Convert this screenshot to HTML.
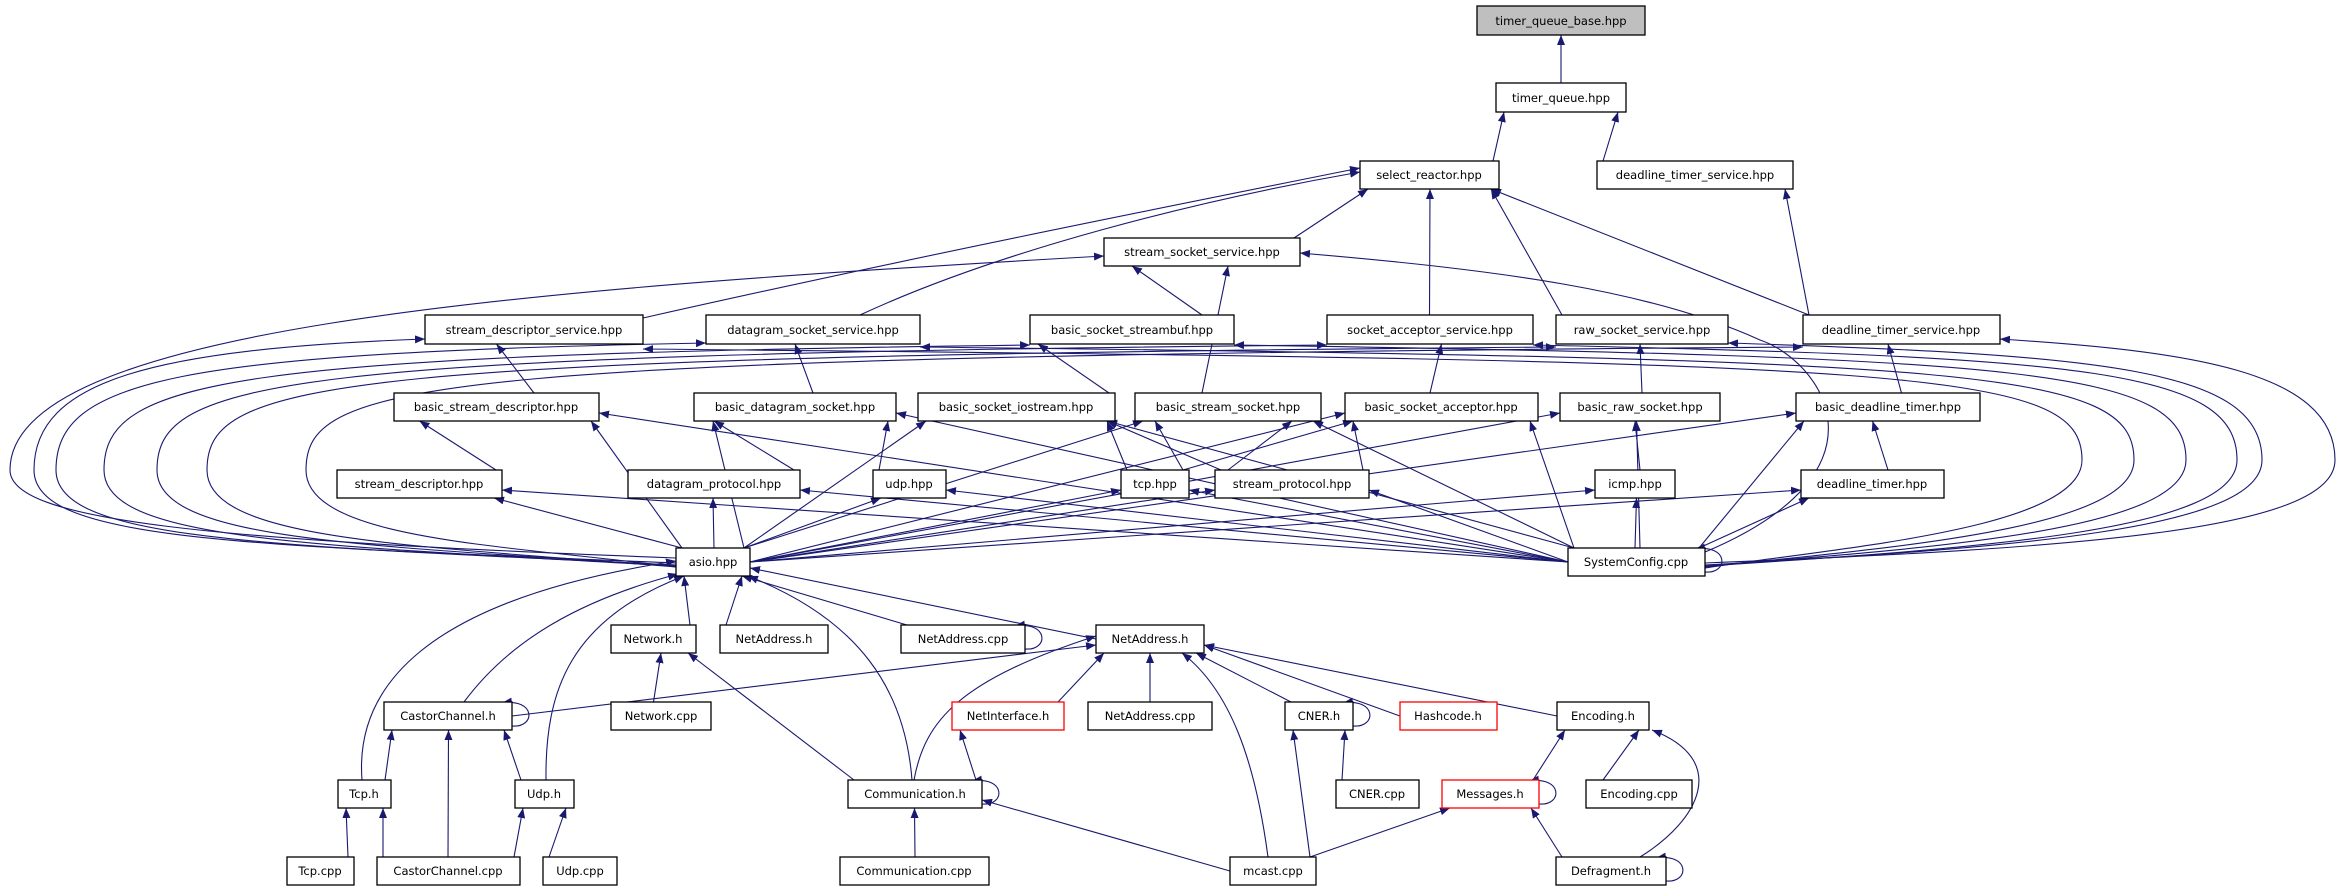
<!DOCTYPE html>
<html><head><meta charset="utf-8"><style>
html,body{margin:0;padding:0;background:#fff;}
svg{display:block;}
text{font-family:"DejaVu Sans","Liberation Sans",sans-serif;font-size:11.5px;fill:#000;}
.n{fill:#fff;stroke:#000;stroke-width:1.3;}
.g{fill:#bfbfbf;stroke:#000;stroke-width:1.3;}
.r{fill:#fff;stroke:#ff0000;stroke-width:1.3;}
</style></head><body>
<svg id="s" width="2341" height="891" viewBox="0 0 2341 891" xmlns="http://www.w3.org/2000/svg">
<defs><marker id="a" markerWidth="10" markerHeight="8" refX="10" refY="4" orient="auto" markerUnits="userSpaceOnUse"><path d="M0,0 L10,4 L0,8 z" fill="#191970"/></marker></defs>
<g id="edges" fill="none" stroke="#191970" stroke-width="1.1"></g>
<g id="nodes">
<rect class="g" x="1477" y="6" width="168" height="29"/><text x="1561" y="25" text-anchor="middle">timer_queue_base.hpp</text>
<rect class="n" x="1496" y="83" width="130" height="29"/><text x="1561" y="102" text-anchor="middle">timer_queue.hpp</text>
<rect class="n" x="1360" y="161" width="139" height="28"/><text x="1429" y="179" text-anchor="middle">select_reactor.hpp</text>
<rect class="n" x="1597" y="161" width="196" height="28"/><text x="1695" y="179" text-anchor="middle">deadline_timer_service.hpp</text>
<rect class="n" x="1104" y="238" width="196" height="28"/><text x="1202" y="256" text-anchor="middle">stream_socket_service.hpp</text>
<rect class="n" x="425" y="315" width="218" height="29"/><text x="534" y="334" text-anchor="middle">stream_descriptor_service.hpp</text>
<rect class="n" x="706" y="315" width="214" height="29"/><text x="813" y="334" text-anchor="middle">datagram_socket_service.hpp</text>
<rect class="n" x="1030" y="315" width="204" height="29"/><text x="1132" y="334" text-anchor="middle">basic_socket_streambuf.hpp</text>
<rect class="n" x="1327" y="315" width="206" height="29"/><text x="1430" y="334" text-anchor="middle">socket_acceptor_service.hpp</text>
<rect class="n" x="1556" y="315" width="172" height="29"/><text x="1642" y="334" text-anchor="middle">raw_socket_service.hpp</text>
<rect class="n" x="1803" y="315" width="197" height="29"/><text x="1901" y="334" text-anchor="middle">deadline_timer_service.hpp</text>
<rect class="n" x="394" y="393" width="205" height="28"/><text x="496" y="411" text-anchor="middle">basic_stream_descriptor.hpp</text>
<rect class="n" x="694" y="393" width="202" height="28"/><text x="795" y="411" text-anchor="middle">basic_datagram_socket.hpp</text>
<rect class="n" x="918" y="393" width="197" height="28"/><text x="1016" y="411" text-anchor="middle">basic_socket_iostream.hpp</text>
<rect class="n" x="1135" y="393" width="186" height="28"/><text x="1228" y="411" text-anchor="middle">basic_stream_socket.hpp</text>
<rect class="n" x="1345" y="393" width="193" height="28"/><text x="1441" y="411" text-anchor="middle">basic_socket_acceptor.hpp</text>
<rect class="n" x="1560" y="393" width="160" height="28"/><text x="1640" y="411" text-anchor="middle">basic_raw_socket.hpp</text>
<rect class="n" x="1796" y="393" width="184" height="28"/><text x="1888" y="411" text-anchor="middle">basic_deadline_timer.hpp</text>
<rect class="n" x="337" y="470" width="165" height="28"/><text x="419" y="488" text-anchor="middle">stream_descriptor.hpp</text>
<rect class="n" x="628" y="470" width="172" height="28"/><text x="714" y="488" text-anchor="middle">datagram_protocol.hpp</text>
<rect class="n" x="873" y="470" width="73" height="28"/><text x="909" y="488" text-anchor="middle">udp.hpp</text>
<rect class="n" x="1121" y="470" width="68" height="28"/><text x="1155" y="488" text-anchor="middle">tcp.hpp</text>
<rect class="n" x="1215" y="470" width="154" height="28"/><text x="1292" y="488" text-anchor="middle">stream_protocol.hpp</text>
<rect class="n" x="1595" y="470" width="80" height="28"/><text x="1635" y="488" text-anchor="middle">icmp.hpp</text>
<rect class="n" x="1801" y="470" width="143" height="28"/><text x="1872" y="488" text-anchor="middle">deadline_timer.hpp</text>
<rect class="n" x="676" y="548" width="74" height="28"/><text x="713" y="566" text-anchor="middle">asio.hpp</text>
<rect class="n" x="1568" y="548" width="137" height="28"/><text x="1636" y="566" text-anchor="middle">SystemConfig.cpp</text>
<rect class="n" x="611" y="625" width="85" height="28"/><text x="653" y="643" text-anchor="middle">Network.h</text>
<rect class="n" x="720" y="625" width="108" height="28"/><text x="774" y="643" text-anchor="middle">NetAddress.h</text>
<rect class="n" x="901" y="625" width="124" height="28"/><text x="963" y="643" text-anchor="middle">NetAddress.cpp</text>
<rect class="n" x="1096" y="625" width="108" height="28"/><text x="1150" y="643" text-anchor="middle">NetAddress.h</text>
<rect class="n" x="384" y="702" width="128" height="28"/><text x="448" y="720" text-anchor="middle">CastorChannel.h</text>
<rect class="n" x="611" y="702" width="100" height="28"/><text x="661" y="720" text-anchor="middle">Network.cpp</text>
<rect class="r" x="952" y="702" width="112" height="28"/><text x="1008" y="720" text-anchor="middle">NetInterface.h</text>
<rect class="n" x="1088" y="702" width="124" height="28"/><text x="1150" y="720" text-anchor="middle">NetAddress.cpp</text>
<rect class="n" x="1285" y="702" width="68" height="28"/><text x="1319" y="720" text-anchor="middle">CNER.h</text>
<rect class="r" x="1400" y="702" width="97" height="28"/><text x="1448" y="720" text-anchor="middle">Hashcode.h</text>
<rect class="n" x="1557" y="702" width="92" height="28"/><text x="1603" y="720" text-anchor="middle">Encoding.h</text>
<rect class="n" x="338" y="780" width="53" height="28"/><text x="364" y="798" text-anchor="middle">Tcp.h</text>
<rect class="n" x="515" y="780" width="59" height="28"/><text x="544" y="798" text-anchor="middle">Udp.h</text>
<rect class="n" x="848" y="780" width="134" height="28"/><text x="915" y="798" text-anchor="middle">Communication.h</text>
<rect class="n" x="1336" y="780" width="83" height="28"/><text x="1377" y="798" text-anchor="middle">CNER.cpp</text>
<rect class="r" x="1442" y="780" width="97" height="28"/><text x="1490" y="798" text-anchor="middle">Messages.h</text>
<rect class="n" x="1586" y="780" width="106" height="28"/><text x="1639" y="798" text-anchor="middle">Encoding.cpp</text>
<rect class="n" x="287" y="857" width="67" height="28"/><text x="320" y="875" text-anchor="middle">Tcp.cpp</text>
<rect class="n" x="377" y="857" width="143" height="28"/><text x="448" y="875" text-anchor="middle">CastorChannel.cpp</text>
<rect class="n" x="543" y="857" width="74" height="28"/><text x="580" y="875" text-anchor="middle">Udp.cpp</text>
<rect class="n" x="840" y="857" width="149" height="28"/><text x="914" y="875" text-anchor="middle">Communication.cpp</text>
<rect class="n" x="1230" y="857" width="86" height="28"/><text x="1273" y="875" text-anchor="middle">mcast.cpp</text>
<rect class="n" x="1556" y="857" width="110" height="28"/><text x="1611" y="875" text-anchor="middle">Defragment.h</text>
</g>
</svg>
<script>
var N={tqb:[1477,6,1645,35],tq:[1496,83,1626,112],sr:[1360,161,1499,189],dts1:[1597,161,1793,189],
sss:[1104,238,1300,266],sds:[425,315,643,344],dss:[706,315,920,344],bss:[1030,315,1234,344],sas:[1327,315,1533,344],
rss:[1556,315,1728,344],dts2:[1803,315,2000,344],bsd:[394,393,599,421],bds:[694,393,896,421],bsi:[918,393,1115,421],
bssk:[1135,393,1321,421],bsa:[1345,393,1538,421],brs:[1560,393,1720,421],bdt:[1796,393,1980,421],sd:[337,470,502,498],
dp:[628,470,800,498],udp:[873,470,946,498],tcp:[1121,470,1189,498],sp:[1215,470,1369,498],icmp:[1595,470,1675,498],
dt:[1801,470,1944,498],asio:[676,548,750,576],sc:[1568,548,1705,576],neth:[611,625,696,653],na1:[720,625,828,653],
nacpp:[901,625,1025,653],na:[1096,625,1204,653],cch:[384,702,512,730],netcpp:[611,702,711,730],ni:[952,702,1064,730],
na2:[1088,702,1212,730],cner:[1285,702,1353,730],hc:[1400,702,1497,730],enc:[1557,702,1649,730],tcph:[338,780,391,808],
udph:[515,780,574,808],comm:[848,780,982,808],cnercpp:[1336,780,1419,808],msg:[1442,780,1539,808],enccpp:[1586,780,1692,808],
tcpcpp:[287,857,354,885],cccpp:[377,857,520,885],udpcpp:[543,857,617,885],commcpp:[840,857,989,885],mcast:[1230,857,1316,885],
defrag:[1556,857,1666,885]};
var g=document.getElementById('edges'),out='';
function P(d){out+='<path d="'+d+'" marker-end="url(#a)"/>';}
function cl(v,a,b){return Math.max(a,Math.min(b,v));}
function E(c,p){var C=N[c],Q=N[p];
 var cx=(C[0]+C[2])/2,px=(Q[0]+Q[2])/2;
 var sx=cl(px,C[0]+6,C[2]-6),ex=cl(cx,Q[0]+8,Q[2]-8);
 var sy,ey;
 if(C[1]>Q[3]){sy=C[1];ey=Q[3];}else{sy=C[3];ey=Q[1];}
 if(Math.abs(sx-ex)>4*Math.abs(sy-ey)){
   sy=(C[1]+C[3])/2;ey=(Q[1]+Q[3])/2+(C[1]>Q[1]?6:0);
   if(sx<ex){sx=C[2];ex=Q[0];}else{sx=C[0];ex=Q[2];}
 }
 P('M'+sx+','+sy+' L'+ex+','+ey);}
function L(p,lane,k){var Q=N[p],ty=Q[1]+18+k;
 P('M676,'+(560+k/2)+' C'+(lane+200)+','+(545)+' '+lane+','+(540)+' '+lane+',470 C'+lane+',380 '+(lane+120)+','+(ty+10)+' '+Q[0]+','+ty);}
function R(p,lane,k){var Q=N[p],ty=Q[1]+18+k;
 P('M1705,'+(560+k/2)+' C'+(lane-250)+','+(548)+' '+lane+','+(530)+' '+lane+',460 C'+lane+',370 '+(lane-150)+','+(ty+12)+' '+Q[2]+','+ty);}
function S(n){var Q=N[n];P('M'+Q[2]+','+(Q[3]-4)+' C'+(Q[2]+24)+','+(Q[3]-2)+' '+(Q[2]+24)+','+(Q[1]-4)+' '+(Q[2]-10)+','+(Q[1]+1));}
[['tq','tqb'],['sr','tq'],['dts1','tq'],['sss','sr'],['sas','sr'],['rss','sr'],['dts2','sr'],['dts2','dts1'],
['bss','sss'],['bssk','sss'],['bsd','sds'],['bds','dss'],['bsi','bss'],['bsa','sas'],['brs','rss'],['bdt','dts2'],
['sd','bsd'],['asio','bsd'],['sc','bsd'],['dp','bds'],['udp','bds'],['asio','bds'],['sc','bds'],
['tcp','bsi'],['asio','bsi'],['sc','bsi'],['sp','bsi'],['tcp','bssk'],['sp','bssk'],['asio','bssk'],['sc','bssk'],
['tcp','bsa'],['sp','bsa'],['asio','bsa'],['sc','bsa'],['icmp','brs'],['asio','brs'],['sc','brs'],
['dt','bdt'],['asio','bdt'],['sc','bdt'],
['asio','sd'],['asio','dp'],['asio','udp'],['asio','tcp'],['asio','sp'],['asio','icmp'],['asio','dt'],
['sc','sd'],['sc','dp'],['sc','udp'],['sc','tcp'],['sc','sp'],['sc','icmp'],['sc','dt'],
['neth','asio'],['na1','asio'],['nacpp','asio'],['na','asio'],
['netcpp','neth'],['comm','neth'],['cch','na'],['ni','na'],['na2','na'],['cner','na'],['hc','na'],['enc','na'],
['tcph','cch'],['cccpp','cch'],['udph','cch'],['tcpcpp','tcph'],['cccpp','tcph'],['cccpp','udph'],['udpcpp','udph'],
['comm','ni'],['commcpp','comm'],['mcast','comm'],['cnercpp','cner'],['mcast','cner'],
['msg','enc'],['enccpp','enc'],['mcast','msg'],['defrag','msg']].forEach(function(e){E(e[0],e[1]);});
// custom curves
P('M362,780 C355,690 420,600 676,561');
P('M464,702 C510,640 580,600 678,574');
P('M546,780 C545,690 570,620 684,576');
P('M912,780 C905,690 860,620 748,576');
P('M914,780 C925,720 960,680 1096,636');
P('M1268,857 C1255,760 1230,690 1182,653');
P('M1640,857 C1700,820 1730,760 1652,730');
// long edges into select_reactor from left
P('M643,318 C900,260 1150,210 1360,168');
P('M860,315 C1000,250 1200,200 1360,172');
// stream_socket_service curves
P('M676,558 C200,540 10,520 10,470 C10,330 500,290 1104,256');
P('M1705,552 C1900,470 1820,360 1760,340 C1650,290 1500,270 1300,253');
L('sds',34,6);L('dss',56,10);L('bss',104,12);L('sas',157,12);L('rss',207,14);L('dts2',306,14);
R('dts2',2335,6);R('rss',2262,10);R('sas',2237,12);R('bss',2186,12);R('dss',2134,14);R('sds',2082,16);
S('sc');S('nacpp');S('cch');S('comm');S('cner');S('msg');S('defrag');
g.innerHTML=out;
</script>
</body></html>
